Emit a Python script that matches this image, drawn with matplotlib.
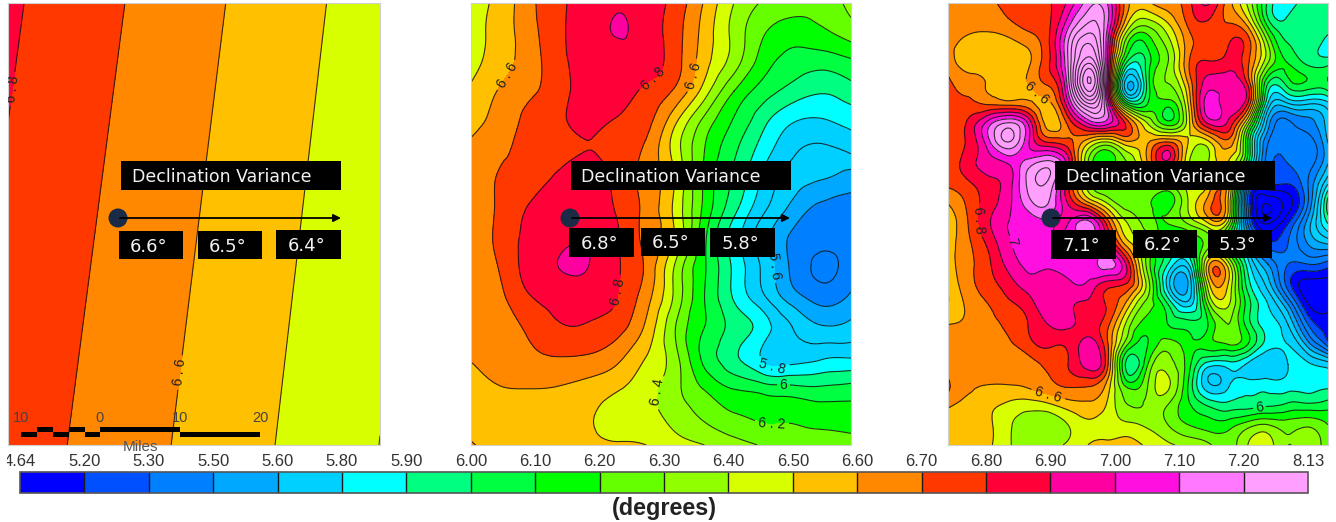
import matplotlib
matplotlib.use("Agg")
import matplotlib.pyplot as plt
import matplotlib.tri as mtri
import numpy as np
from matplotlib.colors import ListedColormap, BoundaryNorm
from matplotlib.patches import Rectangle, Circle

W, H = 1336, 522

# colour classes of the legend
band_edges = [4.64, 5.20, 5.30, 5.50, 5.60, 5.80, 5.90, 6.00, 6.10, 6.20, 6.30,
              6.40, 6.50, 6.60, 6.70, 6.80, 6.90, 7.00, 7.10, 7.20, 8.13]
band_colors = ["#0000ff", "#0050ff", "#0080ff", "#00a8ff", "#00d0ff", "#00ffff",
               "#00ff80", "#00ff40", "#00ff00", "#66ff00", "#90ff00", "#d8ff00",
               "#ffc000", "#ff8800", "#ff3800", "#ff0038", "#ff00a0", "#ff10e0",
               "#ff78ff", "#ffa0ff"]
line_levels = [round(4.7 + 0.1 * i, 1) for i in range(35)]

# left map: corners only, the field is a plane
p1_x = [24, 1141]
p1_y = [10, 1337]
p1_z = [[6.816, 6.447],
        [6.757, 6.399]]

# middle map on a coarse grid
p2_x = [33, 121, 208, 296, 383, 471, 558, 646, 733, 821, 909, 996, 1084, 1172]
p2_y = [10, 98, 187, 275, 364, 452, 541, 629, 718, 806, 895, 983, 1072, 1160, 1249, 1337]
p2_z = [
    [6.44, 6.54, 6.67, 6.78, 6.84, 6.885, 6.86, 6.76, 6.59, 6.40, 6.29, 6.25, 6.24, 6.33],
    [6.45, 6.55, 6.66, 6.78, 6.85, 6.905, 6.86, 6.74, 6.56, 6.37, 6.21, 6.15, 6.18, 6.25],
    [6.46, 6.56, 6.65, 6.77, 6.84, 6.87, 6.85, 6.74, 6.54, 6.35, 6.15, 6.06, 6.04, 6.08],
    [6.52, 6.61, 6.68, 6.76, 6.85, 6.85, 6.78, 6.68, 6.45, 6.20, 6.05, 5.96, 5.91, 5.96],
    [6.57, 6.64, 6.73, 6.78, 6.83, 6.79, 6.73, 6.52, 6.27, 6.09, 5.93, 5.81, 5.79, 5.83],
    [6.62, 6.68, 6.73, 6.76, 6.80, 6.76, 6.68, 6.45, 6.20, 6.02, 5.85, 5.72, 5.68, 5.72],
    [6.63, 6.71, 6.75, 6.83, 6.86, 6.77, 6.67, 6.49, 6.18, 5.98, 5.78, 5.65, 5.60, 5.54],
    [6.62, 6.72, 6.81, 6.87, 6.87, 6.79, 6.67, 6.47, 6.17, 5.93, 5.72, 5.57, 5.47, 5.48],
    [6.62, 6.73, 6.83, 6.88, 6.89, 6.81, 6.67, 6.48, 6.12, 5.85, 5.64, 5.48, 5.42, 5.44],
    [6.60, 6.71, 6.84, 6.90, 6.90, 6.81, 6.68, 6.38, 6.11, 5.88, 5.68, 5.48, 5.38, 5.45],
    [6.62, 6.68, 6.79, 6.84, 6.85, 6.80, 6.64, 6.37, 6.10, 5.89, 5.72, 5.55, 5.46, 5.52],
    [6.62, 6.66, 6.72, 6.79, 6.79, 6.74, 6.58, 6.30, 6.10, 5.96, 5.85, 5.70, 5.61, 5.63],
    [6.605, 6.64, 6.68, 6.70, 6.69, 6.63, 6.50, 6.33, 6.07, 5.92, 5.78, 5.75, 5.78, 5.79],
    [6.56, 6.60, 6.61, 6.60, 6.57, 6.52, 6.44, 6.33, 6.18, 6.08, 6.03, 6.01, 6.00, 6.02],
    [6.52, 6.53, 6.52, 6.52, 6.51, 6.46, 6.43, 6.36, 6.28, 6.21, 6.18, 6.18, 6.16, 6.15],
    [6.62, 6.54, 6.53, 6.52, 6.52, 6.51, 6.50, 6.44, 6.40, 6.34, 6.29, 6.25, 6.24, 6.23],
]

# right map
p3_x = [25, 85, 145, 204, 264, 324, 384, 444, 504, 563, 623, 683, 743, 803, 863, 922, 982, 1042, 1102, 1162]
p3_y = [10, 70, 131, 191, 251, 311, 372, 432, 492, 553, 613, 673, 734, 794, 854, 914, 975, 1035, 1095, 1156, 1216, 1276, 1337]
p3_z = [
    [6.62, 6.67, 6.69, 6.72, 6.75, 6.79, 6.92, 7.15, 7.08, 6.62, 6.58, 6.66, 6.76, 6.92, 6.65, 6.38, 5.98, 5.85, 5.95, 5.96],
    [6.62, 6.63, 6.64, 6.68, 6.73, 6.78, 7.05, 7.30, 7.10, 6.50, 6.35, 6.50, 6.72, 6.78, 6.70, 6.55, 6.05, 5.93, 5.98, 5.97],
    [6.63, 6.57, 6.54, 6.56, 6.63, 6.78, 7.20, 7.50, 7.00, 6.20, 6.13, 6.35, 6.65, 6.72, 6.79, 6.75, 6.30, 6.00, 5.96, 5.85],
    [6.66, 6.55, 6.53, 6.53, 6.58, 6.78, 7.20, 7.70, 6.95, 5.95, 6.05, 6.30, 6.68, 6.82, 6.85, 6.72, 6.30, 6.10, 5.98, 5.97],
    [6.72, 6.66, 6.59, 6.56, 6.60, 6.72, 7.15, 7.90, 6.90, 5.60, 6.05, 6.30, 6.60, 6.95, 6.95, 6.78, 6.00, 6.05, 6.08, 6.09],
    [6.74, 6.72, 6.68, 6.65, 6.63, 6.57, 6.98, 7.50, 7.00, 6.05, 6.10, 6.15, 6.50, 7.05, 6.95, 6.80, 5.80, 5.70, 5.72, 5.78],
    [6.75, 6.82, 7.05, 7.22, 7.00, 6.55, 6.72, 7.00, 7.02, 6.75, 6.40, 6.15, 6.45, 6.90, 6.88, 6.35, 5.55, 5.38, 5.45, 5.65],
    [6.75, 6.82, 7.05, 7.28, 7.02, 6.83, 6.75, 6.50, 6.35, 6.55, 6.60, 6.75, 6.50, 6.45, 6.65, 6.10, 5.40, 5.35, 5.35, 5.60],
    [6.76, 6.85, 6.95, 7.00, 7.15, 7.25, 6.95, 6.30, 6.15, 6.30, 6.60, 6.85, 6.42, 6.40, 6.50, 6.00, 5.35, 5.30, 5.35, 5.60],
    [6.72, 6.78, 6.86, 6.95, 7.22, 7.28, 6.85, 6.35, 6.20, 6.25, 6.35, 6.35, 6.40, 6.50, 6.55, 5.50, 5.20, 5.20, 5.40, 5.80],
    [6.60, 6.72, 6.85, 6.97, 7.15, 7.20, 6.90, 6.65, 6.40, 6.25, 6.22, 6.15, 6.40, 6.65, 6.50, 5.30, 4.90, 5.05, 5.40, 6.05],
    [6.52, 6.70, 6.88, 7.00, 7.02, 7.05, 7.00, 7.15, 6.75, 6.40, 6.25, 6.20, 6.30, 6.48, 6.35, 5.40, 5.00, 5.20, 5.55, 5.90],
    [6.55, 6.68, 6.82, 6.98, 7.02, 7.02, 7.05, 7.08, 6.95, 6.55, 6.30, 6.00, 6.00, 6.25, 6.10, 5.65, 5.25, 5.30, 5.50, 5.60],
    [6.55, 6.67, 6.78, 6.93, 7.02, 7.01, 7.03, 7.05, 7.15, 6.85, 6.25, 5.90, 5.78, 6.55, 6.45, 5.85, 5.50, 5.30, 5.30, 5.25],
    [6.52, 6.66, 6.76, 6.85, 6.95, 6.97, 6.98, 6.98, 6.85, 6.78, 6.35, 5.75, 5.60, 6.45, 6.50, 5.95, 5.65, 5.25, 5.05, 5.05],
    [6.50, 6.62, 6.70, 6.78, 6.85, 6.97, 6.92, 6.88, 6.78, 6.55, 6.25, 6.00, 5.75, 6.25, 6.42, 6.05, 5.80, 5.50, 5.10, 5.05],
    [6.60, 6.62, 6.67, 6.72, 6.80, 6.90, 6.92, 6.85, 6.72, 6.35, 6.15, 6.10, 6.05, 6.10, 6.30, 6.05, 5.85, 5.70, 5.30, 5.15],
    [6.63, 6.63, 6.65, 6.68, 6.76, 6.82, 6.82, 6.95, 6.70, 6.20, 6.10, 6.25, 6.15, 6.15, 6.20, 6.10, 5.85, 5.80, 5.55, 5.25],
    [6.63, 6.62, 6.62, 6.63, 6.66, 6.72, 6.80, 6.95, 6.70, 5.95, 6.20, 6.35, 6.15, 5.85, 5.85, 5.78, 5.72, 5.80, 5.82, 5.75],
    [6.72, 6.62, 6.60, 6.60, 6.62, 6.67, 6.72, 6.72, 6.55, 6.15, 6.30, 6.42, 6.10, 5.72, 5.78, 5.85, 5.85, 5.85, 5.87, 5.88],
    [6.62, 6.57, 6.53, 6.48, 6.45, 6.48, 6.55, 6.58, 6.48, 6.30, 6.32, 6.30, 6.12, 5.98, 5.93, 5.95, 5.98, 6.02, 6.02, 6.05],
    [6.55, 6.55, 6.52, 6.42, 6.35, 6.32, 6.40, 6.48, 6.44, 6.42, 6.38, 6.30, 6.20, 6.15, 6.15, 6.25, 6.30, 6.25, 6.28, 6.20],
    [6.57, 6.58, 6.52, 6.42, 6.33, 6.36, 6.42, 6.50, 6.54, 6.55, 6.48, 6.42, 6.38, 6.32, 6.25, 6.40, 6.45, 6.30, 6.35, 6.25],
]

title_text = "Declination Variance"
p1_values = ["6.6°", "6.5°", "6.4°"]
p2_values = ["6.8°", "6.5°", "5.8°"]
p3_values = ["7.1°", "6.2°", "5.3°"]

cmap = ListedColormap(band_colors)
norm = BoundaryNorm(band_edges, cmap.N)
line_kw = dict(colors="#161616", linewidths=0.8, alpha=0.85)


def label_fmt(v):
    s = f"{v:.1f}"
    if s.endswith(".0"):
        return s[0]
    return s.replace(".", " . ")


def px_axes(fig, x0, y0, x1, y1):
    return fig.add_axes([x0 / W, 1 - y1 / H, (x1 - x0) / W, (y1 - y0) / H])


def draw_map(ax, xs, ys, zs, labels, refine=True):
    gx, gy = np.meshgrid(xs, ys)
    z = np.array(zs, dtype=float)
    if refine:
        tri = mtri.Triangulation(gx.ravel(), gy.ravel())
        tri2, z2 = mtri.UniformTriRefiner(tri).refine_field(z.ravel(), subdiv=3)
        z2 = np.clip(z2, band_edges[0] + 0.01, band_edges[-1] - 0.01)
        cs = ax.tricontourf(tri2, z2, levels=band_edges, cmap=cmap, norm=norm)
        lines = lambda lv: ax.tricontour(tri2, z2, levels=lv, **line_kw)
    else:
        cs = ax.contourf(gx, gy, z, levels=band_edges, cmap=cmap, norm=norm)
        lines = lambda lv: ax.contour(gx, gy, z, levels=lv, **line_kw)
    ax.set_xlim(xs[0], xs[-1])
    ax.set_ylim(ys[-1], ys[0])
    ax.set_xticks([])
    ax.set_yticks([])
    for s in ax.spines.values():
        s.set_color("#d0d0d0")
        s.set_linewidth(0.8)
    # labelled levels get their own contour set, so a label lands on the right line
    labelled = sorted(set(l[0] for l in labels))
    lines([v for v in line_levels if v not in labelled])
    for v in labelled:
        cl = lines([v])
        pts = [(l[1], l[2]) for l in labels if l[0] == v]
        for t in ax.clabel(cl, fmt=label_fmt, fontsize=10, inline=True, inline_spacing=2, manual=pts):
            t.set_color("#222222")
            t.set_family("Liberation Sans")
    return cs


fig = plt.figure(figsize=(W / 100, H / 100), dpi=100, facecolor="white")

ax1 = px_axes(fig, 8, 3, 380, 445)
ax2 = px_axes(fig, 471, 3, 851, 445)
ax3 = px_axes(fig, 948, 3, 1328, 445)

cs = draw_map(ax1, p1_x, p1_y, p1_z, [(6.8, 35, 268), (6.6, 545, 1120)], refine=False)
draw_map(ax2, p2_x, p2_y, p2_z,
         [(6.6, 145, 230), (6.8, 572, 225), (6.6, 700, 228), (6.8, 455, 875), (5.6, 935, 800),
          (5.8, 940, 1070), (6.0, 970, 1190), (6.2, 935, 1290), (6.4, 595, 1180)])
draw_map(ax3, p3_x, p3_y, p3_z,
         [(6.6, 295, 275), (6.8, 148, 660), (7.0, 205, 730), (6.6, 335, 1150), (6.0, 955, 1210)])

# legend bar
cax = px_axes(fig, 20, 472, 1308, 493)
cb = fig.colorbar(cs, cax=cax, orientation="horizontal", spacing="uniform", drawedges=True)
cb.dividers.set_color("#1a1a1a")
cb.dividers.set_linewidth(1.0)
cb.outline.set_edgecolor("#555555")
cb.outline.set_linewidth(1.2)
cb.set_ticks([])
cax.tick_params(which="both", length=0, labelbottom=False)

# everything laid on top is placed in picture pixels
ov = fig.add_axes([0, 0, 1, 1], facecolor="none")
ov.set_xlim(0, W)
ov.set_ylim(H, 0)
ov.axis("off")

bar_left, bar_step = 20, (1308 - 20) / 20
for i, e in enumerate(band_edges):
    t = ov.text(bar_left + i * bar_step, 461, f"{e:.2f}", ha="center", va="center",
                family="Liberation Sans", fontsize=12, color="#333333")
    if i == 0:
        t.set_clip_on(True)
        t.set_clip_path(Rectangle((7, 440), 60, 40, transform=ov.transData))
ov.text(664, 508, "(degrees)", ha="center", va="center", family="Liberation Sans",
        fontweight="bold", fontsize=16.8, color="#222222")


def box(x0, y0, x1, y1, text, tx, size):
    ov.add_patch(Rectangle((x0, y0), x1 - x0, y1 - y0, facecolor="black", edgecolor="none", zorder=5))
    ov.text(tx, (y0 + y1) / 2 + 1.5, text, color="#f2f2f2", ha="center", va="center",
            family="DejaVu Sans", fontsize=size, zorder=6)


def overlay(dot_x, arrow_end, title_x0, vals, boxes):
    box(title_x0, 161, title_x0 + 220, 190, title_text, title_x0 + 100.5, 12.5)
    for v, b in zip(vals, boxes):
        box(b[0], b[1], b[2], b[3], v, (b[0] + b[2]) / 2 - 2, 13)
    ov.add_patch(Circle((dot_x, 218), 9.5, facecolor="#1b2a45", edgecolor="none", zorder=6))
    ov.annotate("", xy=(arrow_end, 218), xytext=(dot_x + 2, 218), zorder=7,
                arrowprops=dict(arrowstyle="-|>", color="black", lw=1.3, mutation_scale=11,
                                shrinkA=0, shrinkB=0))


overlay(118, 341, 121, p1_values, [(119, 231, 183, 259), (198, 231, 262, 259), (276, 230, 341, 259)])
overlay(570, 790, 570.5, p2_values, [(569, 228, 634, 257), (641, 228, 705, 256), (710, 228, 775, 257)])
overlay(1051, 1272, 1055, p3_values, [(1051, 230, 1116, 259), (1133, 230, 1197, 258), (1208, 230, 1272, 258)])

# scale bar on the left map
for lab, x in zip(["10", "0", "10", "20"], [21, 100, 180, 260]):
    ov.text(x, 418, lab, ha="center", va="center", family="Liberation Sans", fontsize=10.5, color="#444444")
for x0, x1, y0 in [(21, 37, 432), (37, 53, 427), (53, 69, 432), (69, 85, 427), (85, 100, 432),
                   (100, 180, 427), (180, 260, 432)]:
    ov.add_patch(Rectangle((x0, y0), x1 - x0, 5, facecolor="black", edgecolor="none"))
ov.text(141, 447, "Miles", ha="center", va="center", family="Liberation Sans", fontsize=11, color="#555555")

fig.savefig("out.png", dpi=100)
